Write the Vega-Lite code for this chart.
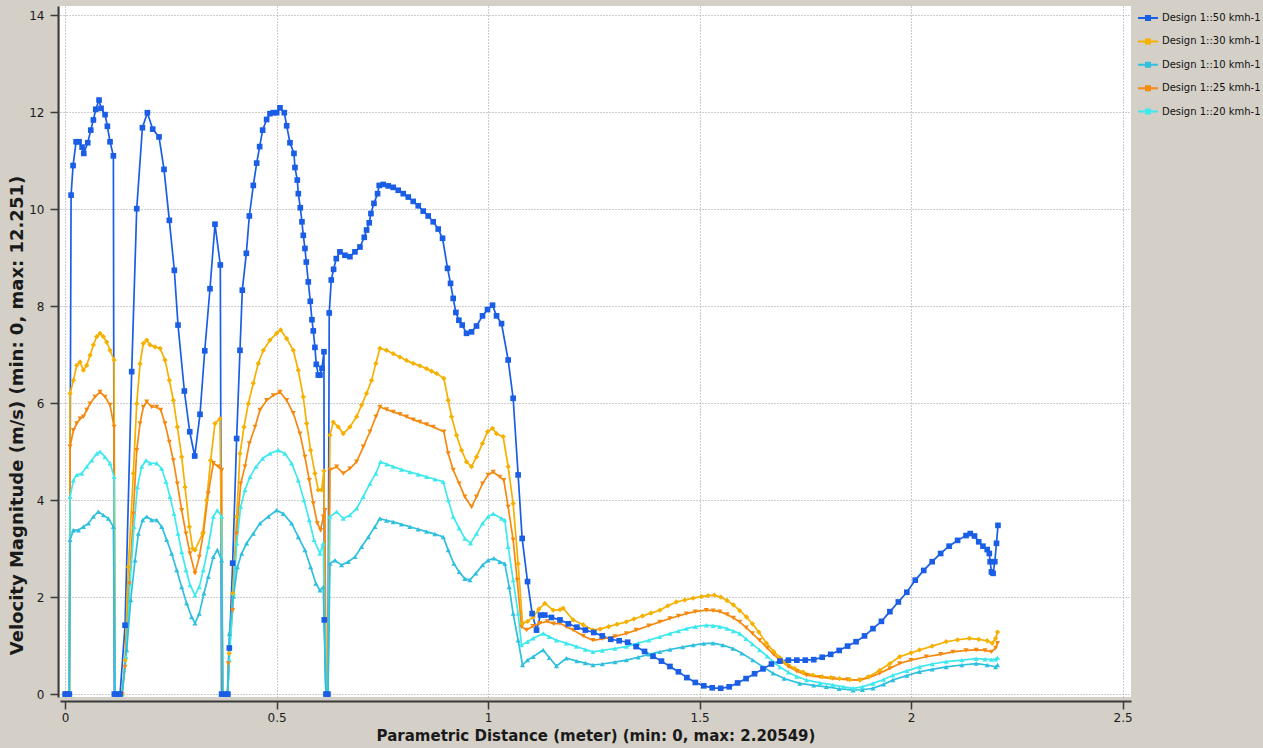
{
  "$schema": "https://vega.github.io/schema/vega-lite/v6.json",
  "autosize": {"type": "none"},
  "width": 1071,
  "height": 691,
  "padding": {"left": 60, "top": 6, "right": 132, "bottom": 51},
  "background": "#d4d0c8",
  "config": {
    "font": "DejaVu Sans",
    "view": {"fill": "#ffffff", "stroke": null},
    "axis": {
      "gridColor": "#9a9a9a", "gridDash": [1, 2], "gridWidth": 1,
      "domainColor": "#3a3a3a", "domainWidth": 2, "tickColor": "#3a3a3a", "tickWidth": 1.5, "tickSize": 8,
      "labelFontSize": 12, "labelColor": "#1a1a1a", "labelFont": "DejaVu Sans",
      "titleFont": "DejaVu Sans", "titleFontWeight": "bold", "titleColor": "#1a1a1a"
    }
  },
  "title": {
    "text": "Velocity Magnitude (m/s) (min: 0, max: 12.251)",
    "orient": "left", "anchor": "middle", "offset": 2, "dx": -64,
    "font": "DejaVu Sans", "fontSize": 18, "fontWeight": "bold", "color": "#1a1a1a"
  },
  "datasets": {
    "d": [
{"s":"Design 1::50 kmh-1","x":0,"y":0},{"s":"Design 1::50 kmh-1","x":0.005,"y":0},{"s":"Design 1::50 kmh-1","x":0.01,"y":0},{"s":"Design 1::50 kmh-1","x":0.0142,"y":10.29},{"s":"Design 1::50 kmh-1","x":0.0189,"y":10.9},{"s":"Design 1::50 kmh-1","x":0.026,"y":11.39},{"s":"Design 1::50 kmh-1","x":0.0331,"y":11.39},{"s":"Design 1::50 kmh-1","x":0.0402,"y":11.28},{"s":"Design 1::50 kmh-1","x":0.0442,"y":11.15},{"s":"Design 1::50 kmh-1","x":0.0536,"y":11.37},{"s":"Design 1::50 kmh-1","x":0.0607,"y":11.63},{"s":"Design 1::50 kmh-1","x":0.0669,"y":11.84},{"s":"Design 1::50 kmh-1","x":0.0725,"y":12.06},{"s":"Design 1::50 kmh-1","x":0.0803,"y":12.25},{"s":"Design 1::50 kmh-1","x":0.0851,"y":12.08},{"s":"Design 1::50 kmh-1","x":0.0945,"y":11.95},{"s":"Design 1::50 kmh-1","x":0.1,"y":11.71},{"s":"Design 1::50 kmh-1","x":0.1063,"y":11.39},{"s":"Design 1::50 kmh-1","x":0.1142,"y":11.1},{"s":"Design 1::50 kmh-1","x":0.1165,"y":0},{"s":"Design 1::50 kmh-1","x":0.1229,"y":0},{"s":"Design 1::50 kmh-1","x":0.13,"y":0},{"s":"Design 1::50 kmh-1","x":0.1418,"y":1.42},{"s":"Design 1::50 kmh-1","x":0.1575,"y":6.65},{"s":"Design 1::50 kmh-1","x":0.1694,"y":10.01},{"s":"Design 1::50 kmh-1","x":0.1828,"y":11.68},{"s":"Design 1::50 kmh-1","x":0.1946,"y":11.99},{"s":"Design 1::50 kmh-1","x":0.2072,"y":11.65},{"s":"Design 1::50 kmh-1","x":0.2221,"y":11.49},{"s":"Design 1::50 kmh-1","x":0.2339,"y":10.82},{"s":"Design 1::50 kmh-1","x":0.2465,"y":9.77},{"s":"Design 1::50 kmh-1","x":0.2583,"y":8.74},{"s":"Design 1::50 kmh-1","x":0.267,"y":7.61},{"s":"Design 1::50 kmh-1","x":0.282,"y":6.25},{"s":"Design 1::50 kmh-1","x":0.2947,"y":5.41},{"s":"Design 1::50 kmh-1","x":0.3065,"y":4.91},{"s":"Design 1::50 kmh-1","x":0.319,"y":5.77},{"s":"Design 1::50 kmh-1","x":0.3302,"y":7.08},{"s":"Design 1::50 kmh-1","x":0.3426,"y":8.36},{"s":"Design 1::50 kmh-1","x":0.3544,"y":9.69},{"s":"Design 1::50 kmh-1","x":0.367,"y":8.85},{"s":"Design 1::50 kmh-1","x":0.37,"y":0},{"s":"Design 1::50 kmh-1","x":0.378,"y":0},{"s":"Design 1::50 kmh-1","x":0.385,"y":0},{"s":"Design 1::50 kmh-1","x":0.3883,"y":0.95},{"s":"Design 1::50 kmh-1","x":0.3962,"y":2.7},{"s":"Design 1::50 kmh-1","x":0.4056,"y":5.27},{"s":"Design 1::50 kmh-1","x":0.4135,"y":7.09},{"s":"Design 1::50 kmh-1","x":0.419,"y":8.33},{"s":"Design 1::50 kmh-1","x":0.4285,"y":9.09},{"s":"Design 1::50 kmh-1","x":0.4356,"y":9.86},{"s":"Design 1::50 kmh-1","x":0.445,"y":10.49},{"s":"Design 1::50 kmh-1","x":0.453,"y":10.95},{"s":"Design 1::50 kmh-1","x":0.46,"y":11.29},{"s":"Design 1::50 kmh-1","x":0.4671,"y":11.63},{"s":"Design 1::50 kmh-1","x":0.4765,"y":11.85},{"s":"Design 1::50 kmh-1","x":0.4844,"y":11.97},{"s":"Design 1::50 kmh-1","x":0.4923,"y":11.99},{"s":"Design 1::50 kmh-1","x":0.5002,"y":11.99},{"s":"Design 1::50 kmh-1","x":0.5081,"y":12.09},{"s":"Design 1::50 kmh-1","x":0.5183,"y":11.99},{"s":"Design 1::50 kmh-1","x":0.5239,"y":11.72},{"s":"Design 1::50 kmh-1","x":0.5317,"y":11.37},{"s":"Design 1::50 kmh-1","x":0.5411,"y":11.15},{"s":"Design 1::50 kmh-1","x":0.5435,"y":10.86},{"s":"Design 1::50 kmh-1","x":0.549,"y":10.6},{"s":"Design 1::50 kmh-1","x":0.5514,"y":10.32},{"s":"Design 1::50 kmh-1","x":0.5561,"y":10.03},{"s":"Design 1::50 kmh-1","x":0.56,"y":9.74},{"s":"Design 1::50 kmh-1","x":0.5632,"y":9.46},{"s":"Design 1::50 kmh-1","x":0.5671,"y":9.19},{"s":"Design 1::50 kmh-1","x":0.5703,"y":8.91},{"s":"Design 1::50 kmh-1","x":0.575,"y":8.5},{"s":"Design 1::50 kmh-1","x":0.5797,"y":8.1},{"s":"Design 1::50 kmh-1","x":0.5836,"y":7.72},{"s":"Design 1::50 kmh-1","x":0.5868,"y":7.49},{"s":"Design 1::50 kmh-1","x":0.5907,"y":7.15},{"s":"Design 1::50 kmh-1","x":0.5939,"y":6.8},{"s":"Design 1::50 kmh-1","x":0.5986,"y":6.58},{"s":"Design 1::50 kmh-1","x":0.6026,"y":6.58},{"s":"Design 1::50 kmh-1","x":0.6073,"y":6.72},{"s":"Design 1::50 kmh-1","x":0.612,"y":7.06},{"s":"Design 1::50 kmh-1","x":0.6128,"y":1.53},{"s":"Design 1::50 kmh-1","x":0.6167,"y":0},{"s":"Design 1::50 kmh-1","x":0.6215,"y":0},{"s":"Design 1::50 kmh-1","x":0.6245,"y":7.86},{"s":"Design 1::50 kmh-1","x":0.6293,"y":8.54},{"s":"Design 1::50 kmh-1","x":0.6348,"y":8.76},{"s":"Design 1::50 kmh-1","x":0.6412,"y":8.98},{"s":"Design 1::50 kmh-1","x":0.6498,"y":9.12},{"s":"Design 1::50 kmh-1","x":0.6616,"y":9.05},{"s":"Design 1::50 kmh-1","x":0.6734,"y":9.02},{"s":"Design 1::50 kmh-1","x":0.6853,"y":9.12},{"s":"Design 1::50 kmh-1","x":0.6971,"y":9.22},{"s":"Design 1::50 kmh-1","x":0.7073,"y":9.42},{"s":"Design 1::50 kmh-1","x":0.7128,"y":9.57},{"s":"Design 1::50 kmh-1","x":0.7191,"y":9.72},{"s":"Design 1::50 kmh-1","x":0.7231,"y":9.91},{"s":"Design 1::50 kmh-1","x":0.7302,"y":10.12},{"s":"Design 1::50 kmh-1","x":0.7388,"y":10.32},{"s":"Design 1::50 kmh-1","x":0.7427,"y":10.49},{"s":"Design 1::50 kmh-1","x":0.7522,"y":10.51},{"s":"Design 1::50 kmh-1","x":0.764,"y":10.48},{"s":"Design 1::50 kmh-1","x":0.7758,"y":10.45},{"s":"Design 1::50 kmh-1","x":0.7876,"y":10.39},{"s":"Design 1::50 kmh-1","x":0.7995,"y":10.32},{"s":"Design 1::50 kmh-1","x":0.8113,"y":10.25},{"s":"Design 1::50 kmh-1","x":0.8231,"y":10.16},{"s":"Design 1::50 kmh-1","x":0.8349,"y":10.07},{"s":"Design 1::50 kmh-1","x":0.8467,"y":9.96},{"s":"Design 1::50 kmh-1","x":0.8585,"y":9.86},{"s":"Design 1::50 kmh-1","x":0.8703,"y":9.74},{"s":"Design 1::50 kmh-1","x":0.8822,"y":9.59},{"s":"Design 1::50 kmh-1","x":0.8924,"y":9.4},{"s":"Design 1::50 kmh-1","x":0.9042,"y":8.78},{"s":"Design 1::50 kmh-1","x":0.9113,"y":8.47},{"s":"Design 1::50 kmh-1","x":0.9176,"y":8.16},{"s":"Design 1::50 kmh-1","x":0.9239,"y":7.87},{"s":"Design 1::50 kmh-1","x":0.931,"y":7.71},{"s":"Design 1::50 kmh-1","x":0.9389,"y":7.61},{"s":"Design 1::50 kmh-1","x":0.9491,"y":7.44},{"s":"Design 1::50 kmh-1","x":0.9609,"y":7.47},{"s":"Design 1::50 kmh-1","x":0.9727,"y":7.59},{"s":"Design 1::50 kmh-1","x":0.9869,"y":7.8},{"s":"Design 1::50 kmh-1","x":0.9987,"y":7.93},{"s":"Design 1::50 kmh-1","x":1.0105,"y":8.02},{"s":"Design 1::50 kmh-1","x":1.02,"y":7.8},{"s":"Design 1::50 kmh-1","x":1.0318,"y":7.64},{"s":"Design 1::50 kmh-1","x":1.0475,"y":6.89},{"s":"Design 1::50 kmh-1","x":1.0593,"y":6.1},{"s":"Design 1::50 kmh-1","x":1.0711,"y":4.52},{"s":"Design 1::50 kmh-1","x":1.0806,"y":3.21},{"s":"Design 1::50 kmh-1","x":1.0933,"y":2.32},{"s":"Design 1::50 kmh-1","x":1.1042,"y":1.66},{"s":"Design 1::50 kmh-1","x":1.1146,"y":1.32},{"s":"Design 1::50 kmh-1","x":1.124,"y":1.63},{"s":"Design 1::50 kmh-1","x":1.134,"y":1.63},{"s":"Design 1::50 kmh-1","x":1.15,"y":1.58},{"s":"Design 1::50 kmh-1","x":1.17,"y":1.53},{"s":"Design 1::50 kmh-1","x":1.19,"y":1.45},{"s":"Design 1::50 kmh-1","x":1.21,"y":1.38},{"s":"Design 1::50 kmh-1","x":1.23,"y":1.32},{"s":"Design 1::50 kmh-1","x":1.25,"y":1.27},{"s":"Design 1::50 kmh-1","x":1.27,"y":1.2},{"s":"Design 1::50 kmh-1","x":1.29,"y":1.13},{"s":"Design 1::50 kmh-1","x":1.31,"y":1.1},{"s":"Design 1::50 kmh-1","x":1.33,"y":1.07},{"s":"Design 1::50 kmh-1","x":1.35,"y":0.98},{"s":"Design 1::50 kmh-1","x":1.37,"y":0.88},{"s":"Design 1::50 kmh-1","x":1.39,"y":0.78},{"s":"Design 1::50 kmh-1","x":1.41,"y":0.68},{"s":"Design 1::50 kmh-1","x":1.43,"y":0.57},{"s":"Design 1::50 kmh-1","x":1.45,"y":0.46},{"s":"Design 1::50 kmh-1","x":1.47,"y":0.34},{"s":"Design 1::50 kmh-1","x":1.49,"y":0.24},{"s":"Design 1::50 kmh-1","x":1.51,"y":0.17},{"s":"Design 1::50 kmh-1","x":1.53,"y":0.13},{"s":"Design 1::50 kmh-1","x":1.55,"y":0.12},{"s":"Design 1::50 kmh-1","x":1.57,"y":0.15},{"s":"Design 1::50 kmh-1","x":1.59,"y":0.23},{"s":"Design 1::50 kmh-1","x":1.61,"y":0.32},{"s":"Design 1::50 kmh-1","x":1.63,"y":0.42},{"s":"Design 1::50 kmh-1","x":1.65,"y":0.52},{"s":"Design 1::50 kmh-1","x":1.67,"y":0.62},{"s":"Design 1::50 kmh-1","x":1.69,"y":0.68},{"s":"Design 1::50 kmh-1","x":1.71,"y":0.7},{"s":"Design 1::50 kmh-1","x":1.73,"y":0.7},{"s":"Design 1::50 kmh-1","x":1.75,"y":0.7},{"s":"Design 1::50 kmh-1","x":1.77,"y":0.71},{"s":"Design 1::50 kmh-1","x":1.79,"y":0.76},{"s":"Design 1::50 kmh-1","x":1.81,"y":0.82},{"s":"Design 1::50 kmh-1","x":1.83,"y":0.9},{"s":"Design 1::50 kmh-1","x":1.85,"y":0.99},{"s":"Design 1::50 kmh-1","x":1.87,"y":1.08},{"s":"Design 1::50 kmh-1","x":1.89,"y":1.2},{"s":"Design 1::50 kmh-1","x":1.91,"y":1.35},{"s":"Design 1::50 kmh-1","x":1.93,"y":1.5},{"s":"Design 1::50 kmh-1","x":1.95,"y":1.7},{"s":"Design 1::50 kmh-1","x":1.97,"y":1.9},{"s":"Design 1::50 kmh-1","x":1.99,"y":2.1},{"s":"Design 1::50 kmh-1","x":2.01,"y":2.35},{"s":"Design 1::50 kmh-1","x":2.03,"y":2.55},{"s":"Design 1::50 kmh-1","x":2.05,"y":2.73},{"s":"Design 1::50 kmh-1","x":2.07,"y":2.9},{"s":"Design 1::50 kmh-1","x":2.09,"y":3.05},{"s":"Design 1::50 kmh-1","x":2.11,"y":3.17},{"s":"Design 1::50 kmh-1","x":2.13,"y":3.27},{"s":"Design 1::50 kmh-1","x":2.14,"y":3.31},{"s":"Design 1::50 kmh-1","x":2.15,"y":3.26},{"s":"Design 1::50 kmh-1","x":2.16,"y":3.14},{"s":"Design 1::50 kmh-1","x":2.17,"y":3.05},{"s":"Design 1::50 kmh-1","x":2.18,"y":2.98},{"s":"Design 1::50 kmh-1","x":2.185,"y":2.9},{"s":"Design 1::50 kmh-1","x":2.187,"y":2.73},{"s":"Design 1::50 kmh-1","x":2.19,"y":2.52},{"s":"Design 1::50 kmh-1","x":2.194,"y":2.49},{"s":"Design 1::50 kmh-1","x":2.198,"y":2.73},{"s":"Design 1::50 kmh-1","x":2.202,"y":3.11},{"s":"Design 1::50 kmh-1","x":2.2055,"y":3.48},

{"s":"Design 1::30 kmh-1","x":0,"y":0},{"s":"Design 1::30 kmh-1","x":0.005,"y":0},{"s":"Design 1::30 kmh-1","x":0.01,"y":0},{"s":"Design 1::30 kmh-1","x":0.0118,"y":6.2},{"s":"Design 1::30 kmh-1","x":0.0197,"y":6.47},{"s":"Design 1::30 kmh-1","x":0.0276,"y":6.78},{"s":"Design 1::30 kmh-1","x":0.0354,"y":6.85},{"s":"Design 1::30 kmh-1","x":0.0433,"y":6.68},{"s":"Design 1::30 kmh-1","x":0.0512,"y":6.78},{"s":"Design 1::30 kmh-1","x":0.059,"y":6.99},{"s":"Design 1::30 kmh-1","x":0.0669,"y":7.2},{"s":"Design 1::30 kmh-1","x":0.0748,"y":7.37},{"s":"Design 1::30 kmh-1","x":0.0827,"y":7.44},{"s":"Design 1::30 kmh-1","x":0.0906,"y":7.37},{"s":"Design 1::30 kmh-1","x":0.0984,"y":7.26},{"s":"Design 1::30 kmh-1","x":0.1063,"y":7.09},{"s":"Design 1::30 kmh-1","x":0.1158,"y":6.89},{"s":"Design 1::30 kmh-1","x":0.118,"y":0},{"s":"Design 1::30 kmh-1","x":0.1229,"y":0},{"s":"Design 1::30 kmh-1","x":0.1347,"y":0},{"s":"Design 1::30 kmh-1","x":0.1418,"y":0.7},{"s":"Design 1::30 kmh-1","x":0.1496,"y":2.62},{"s":"Design 1::30 kmh-1","x":0.1614,"y":4.55},{"s":"Design 1::30 kmh-1","x":0.1694,"y":5.99},{"s":"Design 1::30 kmh-1","x":0.1772,"y":6.81},{"s":"Design 1::30 kmh-1","x":0.185,"y":7.23},{"s":"Design 1::30 kmh-1","x":0.193,"y":7.3},{"s":"Design 1::30 kmh-1","x":0.2009,"y":7.2},{"s":"Design 1::30 kmh-1","x":0.2127,"y":7.16},{"s":"Design 1::30 kmh-1","x":0.2245,"y":7.13},{"s":"Design 1::30 kmh-1","x":0.2363,"y":6.89},{"s":"Design 1::30 kmh-1","x":0.2465,"y":6.47},{"s":"Design 1::30 kmh-1","x":0.256,"y":6.06},{"s":"Design 1::30 kmh-1","x":0.2654,"y":5.51},{"s":"Design 1::30 kmh-1","x":0.2757,"y":4.89},{"s":"Design 1::30 kmh-1","x":0.2836,"y":4.27},{"s":"Design 1::30 kmh-1","x":0.2938,"y":3.45},{"s":"Design 1::30 kmh-1","x":0.3017,"y":3.0},{"s":"Design 1::30 kmh-1","x":0.3072,"y":2.97},{"s":"Design 1::30 kmh-1","x":0.3253,"y":3.31},{"s":"Design 1::30 kmh-1","x":0.3347,"y":4.0},{"s":"Design 1::30 kmh-1","x":0.3442,"y":4.82},{"s":"Design 1::30 kmh-1","x":0.3544,"y":5.58},{"s":"Design 1::30 kmh-1","x":0.3663,"y":5.68},{"s":"Design 1::30 kmh-1","x":0.373,"y":0},{"s":"Design 1::30 kmh-1","x":0.379,"y":0},{"s":"Design 1::30 kmh-1","x":0.384,"y":0},{"s":"Design 1::30 kmh-1","x":0.388,"y":0.84},{"s":"Design 1::30 kmh-1","x":0.3963,"y":2.08},{"s":"Design 1::30 kmh-1","x":0.4057,"y":3.66},{"s":"Design 1::30 kmh-1","x":0.4135,"y":4.96},{"s":"Design 1::30 kmh-1","x":0.423,"y":5.51},{"s":"Design 1::30 kmh-1","x":0.4332,"y":5.99},{"s":"Design 1::30 kmh-1","x":0.445,"y":6.41},{"s":"Design 1::30 kmh-1","x":0.4568,"y":6.82},{"s":"Design 1::30 kmh-1","x":0.4687,"y":7.09},{"s":"Design 1::30 kmh-1","x":0.4844,"y":7.3},{"s":"Design 1::30 kmh-1","x":0.5002,"y":7.44},{"s":"Design 1::30 kmh-1","x":0.5097,"y":7.51},{"s":"Design 1::30 kmh-1","x":0.5239,"y":7.33},{"s":"Design 1::30 kmh-1","x":0.5395,"y":7.09},{"s":"Design 1::30 kmh-1","x":0.5513,"y":6.68},{"s":"Design 1::30 kmh-1","x":0.5631,"y":6.13},{"s":"Design 1::30 kmh-1","x":0.5711,"y":5.58},{"s":"Design 1::30 kmh-1","x":0.5805,"y":5.03},{"s":"Design 1::30 kmh-1","x":0.5907,"y":4.55},{"s":"Design 1::30 kmh-1","x":0.5986,"y":4.21},{"s":"Design 1::30 kmh-1","x":0.6065,"y":4.21},{"s":"Design 1::30 kmh-1","x":0.612,"y":4.6},{"s":"Design 1::30 kmh-1","x":0.617,"y":0},{"s":"Design 1::30 kmh-1","x":0.6215,"y":0},{"s":"Design 1::30 kmh-1","x":0.6262,"y":5.34},{"s":"Design 1::30 kmh-1","x":0.634,"y":5.61},{"s":"Design 1::30 kmh-1","x":0.6459,"y":5.51},{"s":"Design 1::30 kmh-1","x":0.6577,"y":5.37},{"s":"Design 1::30 kmh-1","x":0.6734,"y":5.51},{"s":"Design 1::30 kmh-1","x":0.6892,"y":5.72},{"s":"Design 1::30 kmh-1","x":0.701,"y":5.96},{"s":"Design 1::30 kmh-1","x":0.7128,"y":6.2},{"s":"Design 1::30 kmh-1","x":0.7246,"y":6.47},{"s":"Design 1::30 kmh-1","x":0.7348,"y":6.82},{"s":"Design 1::30 kmh-1","x":0.7443,"y":7.13},{"s":"Design 1::30 kmh-1","x":0.76,"y":7.09},{"s":"Design 1::30 kmh-1","x":0.7758,"y":7.02},{"s":"Design 1::30 kmh-1","x":0.7916,"y":6.95},{"s":"Design 1::30 kmh-1","x":0.8073,"y":6.88},{"s":"Design 1::30 kmh-1","x":0.8231,"y":6.82},{"s":"Design 1::30 kmh-1","x":0.8389,"y":6.77},{"s":"Design 1::30 kmh-1","x":0.8547,"y":6.71},{"s":"Design 1::30 kmh-1","x":0.8665,"y":6.66},{"s":"Design 1::30 kmh-1","x":0.8783,"y":6.61},{"s":"Design 1::30 kmh-1","x":0.8956,"y":6.51},{"s":"Design 1::30 kmh-1","x":0.9058,"y":6.06},{"s":"Design 1::30 kmh-1","x":0.9137,"y":5.72},{"s":"Design 1::30 kmh-1","x":0.9255,"y":5.34},{"s":"Design 1::30 kmh-1","x":0.9373,"y":5.03},{"s":"Design 1::30 kmh-1","x":0.9491,"y":4.79},{"s":"Design 1::30 kmh-1","x":0.9609,"y":4.69},{"s":"Design 1::30 kmh-1","x":0.9727,"y":4.89},{"s":"Design 1::30 kmh-1","x":0.9869,"y":5.17},{"s":"Design 1::30 kmh-1","x":0.9987,"y":5.41},{"s":"Design 1::30 kmh-1","x":1.0105,"y":5.48},{"s":"Design 1::30 kmh-1","x":1.02,"y":5.37},{"s":"Design 1::30 kmh-1","x":1.0357,"y":5.31},{"s":"Design 1::30 kmh-1","x":1.0475,"y":4.69},{"s":"Design 1::30 kmh-1","x":1.0593,"y":3.93},{"s":"Design 1::30 kmh-1","x":1.0711,"y":2.69},{"s":"Design 1::30 kmh-1","x":1.0815,"y":1.46},{"s":"Design 1::30 kmh-1","x":1.0935,"y":1.5},{"s":"Design 1::30 kmh-1","x":1.1066,"y":1.59},{"s":"Design 1::30 kmh-1","x":1.12,"y":1.75},{"s":"Design 1::30 kmh-1","x":1.1342,"y":1.87},{"s":"Design 1::30 kmh-1","x":1.1539,"y":1.73},{"s":"Design 1::30 kmh-1","x":1.17,"y":1.74},{"s":"Design 1::30 kmh-1","x":1.1775,"y":1.77},{"s":"Design 1::30 kmh-1","x":1.2011,"y":1.53},{"s":"Design 1::30 kmh-1","x":1.2247,"y":1.43},{"s":"Design 1::30 kmh-1","x":1.248,"y":1.32},{"s":"Design 1::30 kmh-1","x":1.265,"y":1.34},{"s":"Design 1::30 kmh-1","x":1.285,"y":1.39},{"s":"Design 1::30 kmh-1","x":1.305,"y":1.44},{"s":"Design 1::30 kmh-1","x":1.327,"y":1.49},{"s":"Design 1::30 kmh-1","x":1.345,"y":1.55},{"s":"Design 1::30 kmh-1","x":1.365,"y":1.61},{"s":"Design 1::30 kmh-1","x":1.385,"y":1.67},{"s":"Design 1::30 kmh-1","x":1.406,"y":1.73},{"s":"Design 1::30 kmh-1","x":1.425,"y":1.82},{"s":"Design 1::30 kmh-1","x":1.445,"y":1.9},{"s":"Design 1::30 kmh-1","x":1.465,"y":1.94},{"s":"Design 1::30 kmh-1","x":1.485,"y":1.98},{"s":"Design 1::30 kmh-1","x":1.505,"y":2.01},{"s":"Design 1::30 kmh-1","x":1.52,"y":2.03},{"s":"Design 1::30 kmh-1","x":1.535,"y":2.04},{"s":"Design 1::30 kmh-1","x":1.55,"y":2.0},{"s":"Design 1::30 kmh-1","x":1.565,"y":1.93},{"s":"Design 1::30 kmh-1","x":1.58,"y":1.84},{"s":"Design 1::30 kmh-1","x":1.595,"y":1.72},{"s":"Design 1::30 kmh-1","x":1.611,"y":1.59},{"s":"Design 1::30 kmh-1","x":1.625,"y":1.45},{"s":"Design 1::30 kmh-1","x":1.64,"y":1.28},{"s":"Design 1::30 kmh-1","x":1.658,"y":1.05},{"s":"Design 1::30 kmh-1","x":1.675,"y":0.88},{"s":"Design 1::30 kmh-1","x":1.69,"y":0.75},{"s":"Design 1::30 kmh-1","x":1.705,"y":0.63},{"s":"Design 1::30 kmh-1","x":1.725,"y":0.53},{"s":"Design 1::30 kmh-1","x":1.745,"y":0.45},{"s":"Design 1::30 kmh-1","x":1.768,"y":0.39},{"s":"Design 1::30 kmh-1","x":1.79,"y":0.36},{"s":"Design 1::30 kmh-1","x":1.81,"y":0.34},{"s":"Design 1::30 kmh-1","x":1.831,"y":0.32},{"s":"Design 1::30 kmh-1","x":1.855,"y":0.3},{"s":"Design 1::30 kmh-1","x":1.879,"y":0.29},{"s":"Design 1::30 kmh-1","x":1.9,"y":0.36},{"s":"Design 1::30 kmh-1","x":1.926,"y":0.49},{"s":"Design 1::30 kmh-1","x":1.95,"y":0.63},{"s":"Design 1::30 kmh-1","x":1.973,"y":0.77},{"s":"Design 1::30 kmh-1","x":2.0,"y":0.85},{"s":"Design 1::30 kmh-1","x":2.02,"y":0.91},{"s":"Design 1::30 kmh-1","x":2.05,"y":0.99},{"s":"Design 1::30 kmh-1","x":2.083,"y":1.08},{"s":"Design 1::30 kmh-1","x":2.11,"y":1.12},{"s":"Design 1::30 kmh-1","x":2.138,"y":1.15},{"s":"Design 1::30 kmh-1","x":2.16,"y":1.13},{"s":"Design 1::30 kmh-1","x":2.18,"y":1.1},{"s":"Design 1::30 kmh-1","x":2.192,"y":1.05},{"s":"Design 1::30 kmh-1","x":2.2,"y":1.15},{"s":"Design 1::30 kmh-1","x":2.2045,"y":1.28},

{"s":"Design 1::25 kmh-1","x":0,"y":0},{"s":"Design 1::25 kmh-1","x":0.005,"y":0},{"s":"Design 1::25 kmh-1","x":0.01,"y":0},{"s":"Design 1::25 kmh-1","x":0.0118,"y":5.1},{"s":"Design 1::25 kmh-1","x":0.0197,"y":5.44},{"s":"Design 1::25 kmh-1","x":0.0276,"y":5.58},{"s":"Design 1::25 kmh-1","x":0.0354,"y":5.68},{"s":"Design 1::25 kmh-1","x":0.0433,"y":5.72},{"s":"Design 1::25 kmh-1","x":0.0512,"y":5.86},{"s":"Design 1::25 kmh-1","x":0.059,"y":5.99},{"s":"Design 1::25 kmh-1","x":0.0709,"y":6.13},{"s":"Design 1::25 kmh-1","x":0.0827,"y":6.23},{"s":"Design 1::25 kmh-1","x":0.0945,"y":6.13},{"s":"Design 1::25 kmh-1","x":0.1063,"y":5.96},{"s":"Design 1::25 kmh-1","x":0.1158,"y":5.51},{"s":"Design 1::25 kmh-1","x":0.118,"y":0},{"s":"Design 1::25 kmh-1","x":0.1229,"y":0},{"s":"Design 1::25 kmh-1","x":0.1347,"y":0},{"s":"Design 1::25 kmh-1","x":0.1418,"y":0.56},{"s":"Design 1::25 kmh-1","x":0.152,"y":2.28},{"s":"Design 1::25 kmh-1","x":0.1614,"y":3.72},{"s":"Design 1::25 kmh-1","x":0.1694,"y":5.03},{"s":"Design 1::25 kmh-1","x":0.1772,"y":5.58},{"s":"Design 1::25 kmh-1","x":0.185,"y":5.92},{"s":"Design 1::25 kmh-1","x":0.193,"y":6.03},{"s":"Design 1::25 kmh-1","x":0.2048,"y":5.92},{"s":"Design 1::25 kmh-1","x":0.2166,"y":5.92},{"s":"Design 1::25 kmh-1","x":0.2261,"y":5.86},{"s":"Design 1::25 kmh-1","x":0.2363,"y":5.58},{"s":"Design 1::25 kmh-1","x":0.2465,"y":5.2},{"s":"Design 1::25 kmh-1","x":0.256,"y":4.82},{"s":"Design 1::25 kmh-1","x":0.2654,"y":4.34},{"s":"Design 1::25 kmh-1","x":0.2757,"y":3.79},{"s":"Design 1::25 kmh-1","x":0.2859,"y":3.31},{"s":"Design 1::25 kmh-1","x":0.2954,"y":2.9},{"s":"Design 1::25 kmh-1","x":0.3072,"y":2.49},{"s":"Design 1::25 kmh-1","x":0.3173,"y":2.83},{"s":"Design 1::25 kmh-1","x":0.3268,"y":3.31},{"s":"Design 1::25 kmh-1","x":0.3386,"y":4.14},{"s":"Design 1::25 kmh-1","x":0.3505,"y":4.76},{"s":"Design 1::25 kmh-1","x":0.3623,"y":4.69},{"s":"Design 1::25 kmh-1","x":0.3702,"y":4.62},{"s":"Design 1::25 kmh-1","x":0.3725,"y":0},{"s":"Design 1::25 kmh-1","x":0.379,"y":0},{"s":"Design 1::25 kmh-1","x":0.384,"y":0},{"s":"Design 1::25 kmh-1","x":0.3859,"y":0.63},{"s":"Design 1::25 kmh-1","x":0.3962,"y":1.73},{"s":"Design 1::25 kmh-1","x":0.4057,"y":3.31},{"s":"Design 1::25 kmh-1","x":0.4152,"y":4.34},{"s":"Design 1::25 kmh-1","x":0.4253,"y":4.69},{"s":"Design 1::25 kmh-1","x":0.4356,"y":5.17},{"s":"Design 1::25 kmh-1","x":0.449,"y":5.51},{"s":"Design 1::25 kmh-1","x":0.4608,"y":5.86},{"s":"Design 1::25 kmh-1","x":0.4766,"y":6.06},{"s":"Design 1::25 kmh-1","x":0.4923,"y":6.16},{"s":"Design 1::25 kmh-1","x":0.5081,"y":6.23},{"s":"Design 1::25 kmh-1","x":0.5239,"y":6.06},{"s":"Design 1::25 kmh-1","x":0.5395,"y":5.79},{"s":"Design 1::25 kmh-1","x":0.5553,"y":5.37},{"s":"Design 1::25 kmh-1","x":0.5671,"y":4.89},{"s":"Design 1::25 kmh-1","x":0.5774,"y":4.41},{"s":"Design 1::25 kmh-1","x":0.5868,"y":3.93},{"s":"Design 1::25 kmh-1","x":0.5963,"y":3.52},{"s":"Design 1::25 kmh-1","x":0.6042,"y":3.38},{"s":"Design 1::25 kmh-1","x":0.6104,"y":3.66},{"s":"Design 1::25 kmh-1","x":0.6144,"y":3.79},{"s":"Design 1::25 kmh-1","x":0.6167,"y":0},{"s":"Design 1::25 kmh-1","x":0.6215,"y":0},{"s":"Design 1::25 kmh-1","x":0.6262,"y":4.62},{"s":"Design 1::25 kmh-1","x":0.6419,"y":4.69},{"s":"Design 1::25 kmh-1","x":0.6577,"y":4.55},{"s":"Design 1::25 kmh-1","x":0.6734,"y":4.65},{"s":"Design 1::25 kmh-1","x":0.6892,"y":4.79},{"s":"Design 1::25 kmh-1","x":0.7049,"y":5.1},{"s":"Design 1::25 kmh-1","x":0.7207,"y":5.41},{"s":"Design 1::25 kmh-1","x":0.7348,"y":5.72},{"s":"Design 1::25 kmh-1","x":0.7443,"y":5.92},{"s":"Design 1::25 kmh-1","x":0.76,"y":5.87},{"s":"Design 1::25 kmh-1","x":0.7758,"y":5.82},{"s":"Design 1::25 kmh-1","x":0.7916,"y":5.77},{"s":"Design 1::25 kmh-1","x":0.8073,"y":5.72},{"s":"Design 1::25 kmh-1","x":0.8231,"y":5.66},{"s":"Design 1::25 kmh-1","x":0.8388,"y":5.61},{"s":"Design 1::25 kmh-1","x":0.8547,"y":5.56},{"s":"Design 1::25 kmh-1","x":0.8703,"y":5.51},{"s":"Design 1::25 kmh-1","x":0.8956,"y":5.41},{"s":"Design 1::25 kmh-1","x":0.9058,"y":4.96},{"s":"Design 1::25 kmh-1","x":0.9176,"y":4.62},{"s":"Design 1::25 kmh-1","x":0.9318,"y":4.34},{"s":"Design 1::25 kmh-1","x":0.9452,"y":4.07},{"s":"Design 1::25 kmh-1","x":0.961,"y":3.86},{"s":"Design 1::25 kmh-1","x":0.9727,"y":4.07},{"s":"Design 1::25 kmh-1","x":0.9869,"y":4.34},{"s":"Design 1::25 kmh-1","x":1.0002,"y":4.52},{"s":"Design 1::25 kmh-1","x":1.0121,"y":4.58},{"s":"Design 1::25 kmh-1","x":1.0279,"y":4.48},{"s":"Design 1::25 kmh-1","x":1.0373,"y":4.41},{"s":"Design 1::25 kmh-1","x":1.0475,"y":3.86},{"s":"Design 1::25 kmh-1","x":1.0593,"y":3.18},{"s":"Design 1::25 kmh-1","x":1.0688,"y":2.35},{"s":"Design 1::25 kmh-1","x":1.0791,"y":1.39},{"s":"Design 1::25 kmh-1","x":1.091,"y":1.32},{"s":"Design 1::25 kmh-1","x":1.106,"y":1.4},{"s":"Design 1::25 kmh-1","x":1.1223,"y":1.46},{"s":"Design 1::25 kmh-1","x":1.14,"y":1.5},{"s":"Design 1::25 kmh-1","x":1.155,"y":1.45},{"s":"Design 1::25 kmh-1","x":1.17,"y":1.46},{"s":"Design 1::25 kmh-1","x":1.185,"y":1.39},{"s":"Design 1::25 kmh-1","x":1.201,"y":1.32},{"s":"Design 1::25 kmh-1","x":1.225,"y":1.2},{"s":"Design 1::25 kmh-1","x":1.248,"y":1.11},{"s":"Design 1::25 kmh-1","x":1.27,"y":1.14},{"s":"Design 1::25 kmh-1","x":1.3,"y":1.19},{"s":"Design 1::25 kmh-1","x":1.327,"y":1.25},{"s":"Design 1::25 kmh-1","x":1.35,"y":1.32},{"s":"Design 1::25 kmh-1","x":1.38,"y":1.41},{"s":"Design 1::25 kmh-1","x":1.406,"y":1.49},{"s":"Design 1::25 kmh-1","x":1.43,"y":1.56},{"s":"Design 1::25 kmh-1","x":1.45,"y":1.61},{"s":"Design 1::25 kmh-1","x":1.469,"y":1.66},{"s":"Design 1::25 kmh-1","x":1.49,"y":1.7},{"s":"Design 1::25 kmh-1","x":1.516,"y":1.73},{"s":"Design 1::25 kmh-1","x":1.532,"y":1.72},{"s":"Design 1::25 kmh-1","x":1.548,"y":1.7},{"s":"Design 1::25 kmh-1","x":1.565,"y":1.64},{"s":"Design 1::25 kmh-1","x":1.58,"y":1.57},{"s":"Design 1::25 kmh-1","x":1.595,"y":1.49},{"s":"Design 1::25 kmh-1","x":1.61,"y":1.37},{"s":"Design 1::25 kmh-1","x":1.625,"y":1.25},{"s":"Design 1::25 kmh-1","x":1.642,"y":1.11},{"s":"Design 1::25 kmh-1","x":1.66,"y":0.95},{"s":"Design 1::25 kmh-1","x":1.675,"y":0.82},{"s":"Design 1::25 kmh-1","x":1.69,"y":0.7},{"s":"Design 1::25 kmh-1","x":1.71,"y":0.57},{"s":"Design 1::25 kmh-1","x":1.73,"y":0.47},{"s":"Design 1::25 kmh-1","x":1.753,"y":0.39},{"s":"Design 1::25 kmh-1","x":1.785,"y":0.35},{"s":"Design 1::25 kmh-1","x":1.815,"y":0.32},{"s":"Design 1::25 kmh-1","x":1.85,"y":0.3},{"s":"Design 1::25 kmh-1","x":1.879,"y":0.29},{"s":"Design 1::25 kmh-1","x":1.9,"y":0.34},{"s":"Design 1::25 kmh-1","x":1.926,"y":0.43},{"s":"Design 1::25 kmh-1","x":1.95,"y":0.53},{"s":"Design 1::25 kmh-1","x":1.973,"y":0.63},{"s":"Design 1::25 kmh-1","x":2.0,"y":0.7},{"s":"Design 1::25 kmh-1","x":2.036,"y":0.77},{"s":"Design 1::25 kmh-1","x":2.07,"y":0.82},{"s":"Design 1::25 kmh-1","x":2.099,"y":0.87},{"s":"Design 1::25 kmh-1","x":2.13,"y":0.9},{"s":"Design 1::25 kmh-1","x":2.154,"y":0.91},{"s":"Design 1::25 kmh-1","x":2.175,"y":0.9},{"s":"Design 1::25 kmh-1","x":2.19,"y":0.87},{"s":"Design 1::25 kmh-1","x":2.2,"y":0.95},{"s":"Design 1::25 kmh-1","x":2.2045,"y":1.05},

{"s":"Design 1::20 kmh-1","x":0,"y":0},{"s":"Design 1::20 kmh-1","x":0.005,"y":0},{"s":"Design 1::20 kmh-1","x":0.01,"y":0},{"s":"Design 1::20 kmh-1","x":0.0118,"y":4.07},{"s":"Design 1::20 kmh-1","x":0.0197,"y":4.41},{"s":"Design 1::20 kmh-1","x":0.0276,"y":4.52},{"s":"Design 1::20 kmh-1","x":0.0394,"y":4.55},{"s":"Design 1::20 kmh-1","x":0.0512,"y":4.69},{"s":"Design 1::20 kmh-1","x":0.063,"y":4.82},{"s":"Design 1::20 kmh-1","x":0.0748,"y":4.96},{"s":"Design 1::20 kmh-1","x":0.0827,"y":5.0},{"s":"Design 1::20 kmh-1","x":0.0945,"y":4.89},{"s":"Design 1::20 kmh-1","x":0.1063,"y":4.76},{"s":"Design 1::20 kmh-1","x":0.1158,"y":4.48},{"s":"Design 1::20 kmh-1","x":0.118,"y":0},{"s":"Design 1::20 kmh-1","x":0.1229,"y":0},{"s":"Design 1::20 kmh-1","x":0.1347,"y":0},{"s":"Design 1::20 kmh-1","x":0.1441,"y":0.77},{"s":"Design 1::20 kmh-1","x":0.1536,"y":2.28},{"s":"Design 1::20 kmh-1","x":0.163,"y":3.45},{"s":"Design 1::20 kmh-1","x":0.1709,"y":4.27},{"s":"Design 1::20 kmh-1","x":0.1812,"y":4.69},{"s":"Design 1::20 kmh-1","x":0.1914,"y":4.82},{"s":"Design 1::20 kmh-1","x":0.2009,"y":4.76},{"s":"Design 1::20 kmh-1","x":0.2166,"y":4.76},{"s":"Design 1::20 kmh-1","x":0.2284,"y":4.65},{"s":"Design 1::20 kmh-1","x":0.2386,"y":4.38},{"s":"Design 1::20 kmh-1","x":0.2481,"y":4.07},{"s":"Design 1::20 kmh-1","x":0.2576,"y":3.72},{"s":"Design 1::20 kmh-1","x":0.267,"y":3.31},{"s":"Design 1::20 kmh-1","x":0.2757,"y":2.93},{"s":"Design 1::20 kmh-1","x":0.2859,"y":2.56},{"s":"Design 1::20 kmh-1","x":0.2954,"y":2.25},{"s":"Design 1::20 kmh-1","x":0.3072,"y":2.04},{"s":"Design 1::20 kmh-1","x":0.3173,"y":2.21},{"s":"Design 1::20 kmh-1","x":0.3268,"y":2.56},{"s":"Design 1::20 kmh-1","x":0.3386,"y":3.04},{"s":"Design 1::20 kmh-1","x":0.3505,"y":3.66},{"s":"Design 1::20 kmh-1","x":0.36,"y":3.79},{"s":"Design 1::20 kmh-1","x":0.3702,"y":3.66},{"s":"Design 1::20 kmh-1","x":0.3725,"y":0},{"s":"Design 1::20 kmh-1","x":0.379,"y":0},{"s":"Design 1::20 kmh-1","x":0.384,"y":0},{"s":"Design 1::20 kmh-1","x":0.3883,"y":0.7},{"s":"Design 1::20 kmh-1","x":0.398,"y":2.08},{"s":"Design 1::20 kmh-1","x":0.4057,"y":3.11},{"s":"Design 1::20 kmh-1","x":0.4152,"y":3.86},{"s":"Design 1::20 kmh-1","x":0.4253,"y":4.21},{"s":"Design 1::20 kmh-1","x":0.4372,"y":4.48},{"s":"Design 1::20 kmh-1","x":0.4513,"y":4.69},{"s":"Design 1::20 kmh-1","x":0.4671,"y":4.86},{"s":"Design 1::20 kmh-1","x":0.4844,"y":4.96},{"s":"Design 1::20 kmh-1","x":0.5041,"y":5.03},{"s":"Design 1::20 kmh-1","x":0.5199,"y":4.96},{"s":"Design 1::20 kmh-1","x":0.5356,"y":4.76},{"s":"Design 1::20 kmh-1","x":0.5513,"y":4.41},{"s":"Design 1::20 kmh-1","x":0.5647,"y":4.0},{"s":"Design 1::20 kmh-1","x":0.5773,"y":3.59},{"s":"Design 1::20 kmh-1","x":0.5884,"y":3.18},{"s":"Design 1::20 kmh-1","x":0.6026,"y":2.9},{"s":"Design 1::20 kmh-1","x":0.6104,"y":3.11},{"s":"Design 1::20 kmh-1","x":0.6167,"y":0},{"s":"Design 1::20 kmh-1","x":0.6215,"y":0},{"s":"Design 1::20 kmh-1","x":0.6262,"y":3.66},{"s":"Design 1::20 kmh-1","x":0.6419,"y":3.76},{"s":"Design 1::20 kmh-1","x":0.6577,"y":3.62},{"s":"Design 1::20 kmh-1","x":0.6734,"y":3.69},{"s":"Design 1::20 kmh-1","x":0.6892,"y":3.83},{"s":"Design 1::20 kmh-1","x":0.7049,"y":4.07},{"s":"Design 1::20 kmh-1","x":0.7207,"y":4.34},{"s":"Design 1::20 kmh-1","x":0.7348,"y":4.55},{"s":"Design 1::20 kmh-1","x":0.7459,"y":4.79},{"s":"Design 1::20 kmh-1","x":0.7608,"y":4.74},{"s":"Design 1::20 kmh-1","x":0.7758,"y":4.69},{"s":"Design 1::20 kmh-1","x":0.7955,"y":4.63},{"s":"Design 1::20 kmh-1","x":0.8152,"y":4.58},{"s":"Design 1::20 kmh-1","x":0.835,"y":4.53},{"s":"Design 1::20 kmh-1","x":0.8547,"y":4.48},{"s":"Design 1::20 kmh-1","x":0.8745,"y":4.43},{"s":"Design 1::20 kmh-1","x":0.894,"y":4.38},{"s":"Design 1::20 kmh-1","x":0.9058,"y":4.0},{"s":"Design 1::20 kmh-1","x":0.9176,"y":3.66},{"s":"Design 1::20 kmh-1","x":0.9318,"y":3.42},{"s":"Design 1::20 kmh-1","x":0.9452,"y":3.21},{"s":"Design 1::20 kmh-1","x":0.9586,"y":3.11},{"s":"Design 1::20 kmh-1","x":0.9727,"y":3.31},{"s":"Design 1::20 kmh-1","x":0.9869,"y":3.52},{"s":"Design 1::20 kmh-1","x":1.0002,"y":3.66},{"s":"Design 1::20 kmh-1","x":1.0121,"y":3.72},{"s":"Design 1::20 kmh-1","x":1.032,"y":3.62},{"s":"Design 1::20 kmh-1","x":1.0396,"y":3.59},{"s":"Design 1::20 kmh-1","x":1.0475,"y":3.04},{"s":"Design 1::20 kmh-1","x":1.0593,"y":2.35},{"s":"Design 1::20 kmh-1","x":1.0711,"y":1.66},{"s":"Design 1::20 kmh-1","x":1.0791,"y":1.01},{"s":"Design 1::20 kmh-1","x":1.093,"y":1.08},{"s":"Design 1::20 kmh-1","x":1.1066,"y":1.15},{"s":"Design 1::20 kmh-1","x":1.1302,"y":1.25},{"s":"Design 1::20 kmh-1","x":1.145,"y":1.18},{"s":"Design 1::20 kmh-1","x":1.1617,"y":1.11},{"s":"Design 1::20 kmh-1","x":1.185,"y":1.05},{"s":"Design 1::20 kmh-1","x":1.209,"y":0.98},{"s":"Design 1::20 kmh-1","x":1.23,"y":0.92},{"s":"Design 1::20 kmh-1","x":1.248,"y":0.87},{"s":"Design 1::20 kmh-1","x":1.27,"y":0.9},{"s":"Design 1::20 kmh-1","x":1.3,"y":0.94},{"s":"Design 1::20 kmh-1","x":1.327,"y":0.98},{"s":"Design 1::20 kmh-1","x":1.355,"y":1.05},{"s":"Design 1::20 kmh-1","x":1.38,"y":1.11},{"s":"Design 1::20 kmh-1","x":1.406,"y":1.18},{"s":"Design 1::20 kmh-1","x":1.43,"y":1.25},{"s":"Design 1::20 kmh-1","x":1.45,"y":1.3},{"s":"Design 1::20 kmh-1","x":1.469,"y":1.35},{"s":"Design 1::20 kmh-1","x":1.49,"y":1.39},{"s":"Design 1::20 kmh-1","x":1.516,"y":1.42},{"s":"Design 1::20 kmh-1","x":1.532,"y":1.41},{"s":"Design 1::20 kmh-1","x":1.548,"y":1.39},{"s":"Design 1::20 kmh-1","x":1.565,"y":1.35},{"s":"Design 1::20 kmh-1","x":1.58,"y":1.3},{"s":"Design 1::20 kmh-1","x":1.595,"y":1.25},{"s":"Design 1::20 kmh-1","x":1.61,"y":1.14},{"s":"Design 1::20 kmh-1","x":1.625,"y":1.03},{"s":"Design 1::20 kmh-1","x":1.642,"y":0.91},{"s":"Design 1::20 kmh-1","x":1.66,"y":0.78},{"s":"Design 1::20 kmh-1","x":1.675,"y":0.66},{"s":"Design 1::20 kmh-1","x":1.69,"y":0.56},{"s":"Design 1::20 kmh-1","x":1.71,"y":0.45},{"s":"Design 1::20 kmh-1","x":1.73,"y":0.36},{"s":"Design 1::20 kmh-1","x":1.753,"y":0.29},{"s":"Design 1::20 kmh-1","x":1.785,"y":0.23},{"s":"Design 1::20 kmh-1","x":1.815,"y":0.19},{"s":"Design 1::20 kmh-1","x":1.84,"y":0.15},{"s":"Design 1::20 kmh-1","x":1.863,"y":0.12},{"s":"Design 1::20 kmh-1","x":1.885,"y":0.15},{"s":"Design 1::20 kmh-1","x":1.91,"y":0.22},{"s":"Design 1::20 kmh-1","x":1.935,"y":0.3},{"s":"Design 1::20 kmh-1","x":1.957,"y":0.39},{"s":"Design 1::20 kmh-1","x":1.99,"y":0.48},{"s":"Design 1::20 kmh-1","x":2.02,"y":0.56},{"s":"Design 1::20 kmh-1","x":2.05,"y":0.62},{"s":"Design 1::20 kmh-1","x":2.083,"y":0.67},{"s":"Design 1::20 kmh-1","x":2.12,"y":0.7},{"s":"Design 1::20 kmh-1","x":2.154,"y":0.73},{"s":"Design 1::20 kmh-1","x":2.175,"y":0.72},{"s":"Design 1::20 kmh-1","x":2.19,"y":0.71},{"s":"Design 1::20 kmh-1","x":2.2,"y":0.72},{"s":"Design 1::20 kmh-1","x":2.2045,"y":0.75},

{"s":"Design 1::10 kmh-1","x":0,"y":0},{"s":"Design 1::10 kmh-1","x":0.005,"y":0},{"s":"Design 1::10 kmh-1","x":0.01,"y":0},{"s":"Design 1::10 kmh-1","x":0.0118,"y":3.18},{"s":"Design 1::10 kmh-1","x":0.0197,"y":3.38},{"s":"Design 1::10 kmh-1","x":0.0315,"y":3.38},{"s":"Design 1::10 kmh-1","x":0.0433,"y":3.45},{"s":"Design 1::10 kmh-1","x":0.0551,"y":3.52},{"s":"Design 1::10 kmh-1","x":0.0669,"y":3.66},{"s":"Design 1::10 kmh-1","x":0.0787,"y":3.76},{"s":"Design 1::10 kmh-1","x":0.0906,"y":3.69},{"s":"Design 1::10 kmh-1","x":0.1024,"y":3.62},{"s":"Design 1::10 kmh-1","x":0.1142,"y":3.45},{"s":"Design 1::10 kmh-1","x":0.118,"y":0},{"s":"Design 1::10 kmh-1","x":0.1229,"y":0},{"s":"Design 1::10 kmh-1","x":0.1347,"y":0},{"s":"Design 1::10 kmh-1","x":0.1457,"y":0.91},{"s":"Design 1::10 kmh-1","x":0.1552,"y":1.94},{"s":"Design 1::10 kmh-1","x":0.1654,"y":2.76},{"s":"Design 1::10 kmh-1","x":0.1733,"y":3.31},{"s":"Design 1::10 kmh-1","x":0.1836,"y":3.59},{"s":"Design 1::10 kmh-1","x":0.193,"y":3.66},{"s":"Design 1::10 kmh-1","x":0.2048,"y":3.59},{"s":"Design 1::10 kmh-1","x":0.2166,"y":3.59},{"s":"Design 1::10 kmh-1","x":0.2284,"y":3.45},{"s":"Design 1::10 kmh-1","x":0.2402,"y":3.18},{"s":"Design 1::10 kmh-1","x":0.252,"y":2.9},{"s":"Design 1::10 kmh-1","x":0.2639,"y":2.56},{"s":"Design 1::10 kmh-1","x":0.2757,"y":2.21},{"s":"Design 1::10 kmh-1","x":0.2875,"y":1.87},{"s":"Design 1::10 kmh-1","x":0.2993,"y":1.59},{"s":"Design 1::10 kmh-1","x":0.3072,"y":1.46},{"s":"Design 1::10 kmh-1","x":0.3173,"y":1.66},{"s":"Design 1::10 kmh-1","x":0.3284,"y":2.08},{"s":"Design 1::10 kmh-1","x":0.3386,"y":2.42},{"s":"Design 1::10 kmh-1","x":0.3505,"y":2.83},{"s":"Design 1::10 kmh-1","x":0.36,"y":2.97},{"s":"Design 1::10 kmh-1","x":0.3702,"y":2.76},{"s":"Design 1::10 kmh-1","x":0.3725,"y":0},{"s":"Design 1::10 kmh-1","x":0.379,"y":0},{"s":"Design 1::10 kmh-1","x":0.384,"y":0},{"s":"Design 1::10 kmh-1","x":0.3883,"y":1.25},{"s":"Design 1::10 kmh-1","x":0.398,"y":2.01},{"s":"Design 1::10 kmh-1","x":0.4073,"y":2.62},{"s":"Design 1::10 kmh-1","x":0.4175,"y":2.9},{"s":"Design 1::10 kmh-1","x":0.4293,"y":3.11},{"s":"Design 1::10 kmh-1","x":0.445,"y":3.31},{"s":"Design 1::10 kmh-1","x":0.4608,"y":3.52},{"s":"Design 1::10 kmh-1","x":0.4805,"y":3.66},{"s":"Design 1::10 kmh-1","x":0.5002,"y":3.79},{"s":"Design 1::10 kmh-1","x":0.516,"y":3.72},{"s":"Design 1::10 kmh-1","x":0.5356,"y":3.52},{"s":"Design 1::10 kmh-1","x":0.5513,"y":3.24},{"s":"Design 1::10 kmh-1","x":0.5671,"y":2.97},{"s":"Design 1::10 kmh-1","x":0.5805,"y":2.62},{"s":"Design 1::10 kmh-1","x":0.593,"y":2.28},{"s":"Design 1::10 kmh-1","x":0.6026,"y":2.14},{"s":"Design 1::10 kmh-1","x":0.6104,"y":2.21},{"s":"Design 1::10 kmh-1","x":0.6167,"y":0},{"s":"Design 1::10 kmh-1","x":0.6215,"y":0},{"s":"Design 1::10 kmh-1","x":0.6262,"y":2.69},{"s":"Design 1::10 kmh-1","x":0.638,"y":2.76},{"s":"Design 1::10 kmh-1","x":0.6537,"y":2.66},{"s":"Design 1::10 kmh-1","x":0.6695,"y":2.73},{"s":"Design 1::10 kmh-1","x":0.6853,"y":2.83},{"s":"Design 1::10 kmh-1","x":0.701,"y":3.04},{"s":"Design 1::10 kmh-1","x":0.7168,"y":3.24},{"s":"Design 1::10 kmh-1","x":0.7325,"y":3.45},{"s":"Design 1::10 kmh-1","x":0.7443,"y":3.62},{"s":"Design 1::10 kmh-1","x":0.76,"y":3.58},{"s":"Design 1::10 kmh-1","x":0.7758,"y":3.55},{"s":"Design 1::10 kmh-1","x":0.7955,"y":3.5},{"s":"Design 1::10 kmh-1","x":0.8152,"y":3.45},{"s":"Design 1::10 kmh-1","x":0.835,"y":3.4},{"s":"Design 1::10 kmh-1","x":0.8547,"y":3.35},{"s":"Design 1::10 kmh-1","x":0.8745,"y":3.3},{"s":"Design 1::10 kmh-1","x":0.894,"y":3.24},{"s":"Design 1::10 kmh-1","x":0.9058,"y":2.97},{"s":"Design 1::10 kmh-1","x":0.9192,"y":2.69},{"s":"Design 1::10 kmh-1","x":0.9318,"y":2.52},{"s":"Design 1::10 kmh-1","x":0.9452,"y":2.38},{"s":"Design 1::10 kmh-1","x":0.957,"y":2.35},{"s":"Design 1::10 kmh-1","x":0.9711,"y":2.49},{"s":"Design 1::10 kmh-1","x":0.9869,"y":2.66},{"s":"Design 1::10 kmh-1","x":1.0002,"y":2.76},{"s":"Design 1::10 kmh-1","x":1.0137,"y":2.8},{"s":"Design 1::10 kmh-1","x":1.0279,"y":2.73},{"s":"Design 1::10 kmh-1","x":1.0396,"y":2.69},{"s":"Design 1::10 kmh-1","x":1.0499,"y":2.21},{"s":"Design 1::10 kmh-1","x":1.0593,"y":1.66},{"s":"Design 1::10 kmh-1","x":1.0711,"y":1.11},{"s":"Design 1::10 kmh-1","x":1.0815,"y":0.6},{"s":"Design 1::10 kmh-1","x":1.093,"y":0.7},{"s":"Design 1::10 kmh-1","x":1.1066,"y":0.77},{"s":"Design 1::10 kmh-1","x":1.1302,"y":0.91},{"s":"Design 1::10 kmh-1","x":1.145,"y":0.75},{"s":"Design 1::10 kmh-1","x":1.1617,"y":0.58},{"s":"Design 1::10 kmh-1","x":1.1853,"y":0.74},{"s":"Design 1::10 kmh-1","x":1.21,"y":0.68},{"s":"Design 1::10 kmh-1","x":1.23,"y":0.64},{"s":"Design 1::10 kmh-1","x":1.248,"y":0.6},{"s":"Design 1::10 kmh-1","x":1.27,"y":0.62},{"s":"Design 1::10 kmh-1","x":1.3,"y":0.66},{"s":"Design 1::10 kmh-1","x":1.327,"y":0.7},{"s":"Design 1::10 kmh-1","x":1.355,"y":0.76},{"s":"Design 1::10 kmh-1","x":1.38,"y":0.82},{"s":"Design 1::10 kmh-1","x":1.406,"y":0.87},{"s":"Design 1::10 kmh-1","x":1.43,"y":0.92},{"s":"Design 1::10 kmh-1","x":1.46,"y":0.97},{"s":"Design 1::10 kmh-1","x":1.485,"y":1.01},{"s":"Design 1::10 kmh-1","x":1.51,"y":1.04},{"s":"Design 1::10 kmh-1","x":1.532,"y":1.05},{"s":"Design 1::10 kmh-1","x":1.555,"y":1.01},{"s":"Design 1::10 kmh-1","x":1.579,"y":0.94},{"s":"Design 1::10 kmh-1","x":1.6,"y":0.84},{"s":"Design 1::10 kmh-1","x":1.626,"y":0.7},{"s":"Design 1::10 kmh-1","x":1.65,"y":0.56},{"s":"Design 1::10 kmh-1","x":1.674,"y":0.43},{"s":"Design 1::10 kmh-1","x":1.7,"y":0.32},{"s":"Design 1::10 kmh-1","x":1.737,"y":0.22},{"s":"Design 1::10 kmh-1","x":1.77,"y":0.18},{"s":"Design 1::10 kmh-1","x":1.8,"y":0.15},{"s":"Design 1::10 kmh-1","x":1.83,"y":0.11},{"s":"Design 1::10 kmh-1","x":1.863,"y":0.08},{"s":"Design 1::10 kmh-1","x":1.885,"y":0.09},{"s":"Design 1::10 kmh-1","x":1.91,"y":0.12},{"s":"Design 1::10 kmh-1","x":1.935,"y":0.2},{"s":"Design 1::10 kmh-1","x":1.957,"y":0.29},{"s":"Design 1::10 kmh-1","x":1.99,"y":0.38},{"s":"Design 1::10 kmh-1","x":2.02,"y":0.46},{"s":"Design 1::10 kmh-1","x":2.05,"y":0.51},{"s":"Design 1::10 kmh-1","x":2.083,"y":0.56},{"s":"Design 1::10 kmh-1","x":2.12,"y":0.6},{"s":"Design 1::10 kmh-1","x":2.154,"y":0.63},{"s":"Design 1::10 kmh-1","x":2.18,"y":0.6},{"s":"Design 1::10 kmh-1","x":2.2,"y":0.56},{"s":"Design 1::10 kmh-1","x":2.2045,"y":0.6}
    ]
  },
  "data": {"name": "d"},
  "encoding": {
    "x": {
      "field": "x", "type": "quantitative",
      "scale": {"domain": [-0.012, 2.52], "nice": false, "zero": false},
      "axis": {
        "title": "Parametric Distance (meter) (min: 0, max: 2.20549)",
        "values": [0, 0.5, 1, 1.5, 2, 2.5], "format": "~g",
        "offset": 4, "titleFontSize": 15, "titlePadding": 5, "labelPadding": 3
      }
    },
    "y": {
      "field": "y", "type": "quantitative",
      "scale": {"domain": [-0.06, 14.19], "nice": false, "zero": false},
      "axis": {
        "title": null,
        "values": [0, 2, 4, 6, 8, 10, 12, 14],
        "offset": 2, "labelPadding": 6
      }
    },
    "color": {
      "field": "s", "type": "nominal",
      "scale": {
        "domain": ["Design 1::50 kmh-1", "Design 1::30 kmh-1", "Design 1::10 kmh-1", "Design 1::25 kmh-1", "Design 1::20 kmh-1"],
        "range": ["#1a5ee6", "#f5b000", "#2fbfdf", "#f5890f", "#3ee8ee"]
      },
      "legend": {
        "title": null, "orient": "none", "legendX": 1078, "legendY": 2,
        "padding": 0, "rowPadding": 8.4, "labelFontSize": 10, "labelFont": "DejaVu Sans", "labelColor": "#111",
        "labelOffset": 4, "symbolSize": 400,
        "symbolType": "M-1,-0.1H1V0.1H-1Z M-0.3,-0.3H0.3V0.3H-0.3Z",
        "symbolStrokeWidth": 0,
        "encode": {"symbols": {"update": {
          "fill": {"scale": "color", "field": "value"}, "fillOpacity": {"value": 1}, "strokeWidth": {"value": 0}, "opacity": {"value": 1}}}}
      }
    }
  },
  "layer": [
    {"mark": {"type": "line", "strokeWidth": 1.7, "interpolate": "linear"}},
    {"transform": [{"filter": {"field": "s", "equal": "Design 1::10 kmh-1"}}], "mark": {"type": "point", "filled": true, "opacity": 1, "shape": "triangle-up", "size": 26}},
    {"transform": [{"filter": {"field": "s", "equal": "Design 1::20 kmh-1"}}], "mark": {"type": "point", "filled": true, "opacity": 1, "shape": "triangle-up", "size": 26}},
    {"transform": [{"filter": {"field": "s", "equal": "Design 1::25 kmh-1"}}], "mark": {"type": "point", "filled": true, "opacity": 1, "shape": "triangle-down", "size": 26}},
    {"transform": [{"filter": {"field": "s", "equal": "Design 1::30 kmh-1"}}], "mark": {"type": "point", "filled": true, "opacity": 1, "shape": "diamond", "size": 28}},
    {"transform": [{"filter": {"field": "s", "equal": "Design 1::50 kmh-1"}}], "mark": {"type": "point", "filled": true, "opacity": 1, "shape": "square", "size": 32}}
  ]
}
